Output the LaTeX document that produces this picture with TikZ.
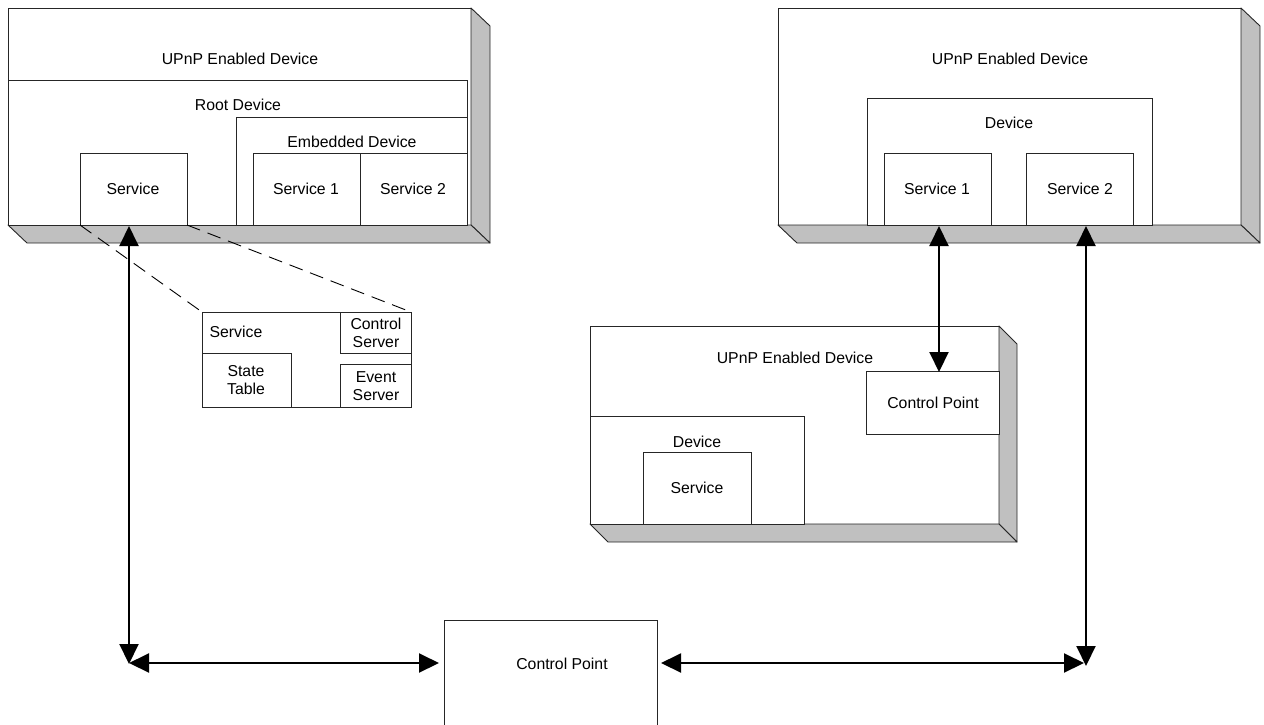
\documentclass[tikz,border=0pt]{standalone}
\usepackage{fontspec}
\setmainfont{Liberation Sans}
\usetikzlibrary{arrows.meta}
\definecolor{shade}{HTML}{C0C0C0}
\tikzset{
  box/.style={draw=black!85, fill=white, line width=0.9pt, inner sep=0pt, outer sep=0pt, anchor=north west},
  face/.style={draw=black!85, fill=shade, line width=0.9pt, line join=round},
  lbl/.style={inner sep=0pt, font=\fontsize{15.8pt}{18.5pt}\selectfont, align=center},
  link/.style={line width=2pt, {Triangle[length=20pt,width=19pt]}-{Triangle[length=20pt,width=19pt]}, shorten <=-1pt, shorten >=-1pt},
  zoomline/.style={line width=0.9pt, dash pattern=on 14pt off 8pt},
}
% a raised device box: front face plus shaded right and bottom faces
\newcommand{\devbox}[5]{% name, x1, y1, x2, y2
  \node[box, minimum width={(#4-#2)*1pt}, minimum height={(#5-#3)*1pt}] (#1) at (#2,#3) {};
  \draw[face] (#1.north east) -- ++(19,18) -- ++(0,{#5-#3}) -- ++(-19,-18) -- cycle;
  \draw[face] (#1.south west) -- ++(19,18) -- ++({#4-#2},0) -- ++(-19,-18) -- cycle;
}
\newcommand{\plainbox}[5]{% name, x1, y1, x2, y2
  \node[box, minimum width={(#4-#2)*1pt}, minimum height={(#5-#3)*1pt}] (#1) at (#2,#3) {};
}
\begin{document}
\begin{tikzpicture}[x=1pt, y=-1pt]
\useasboundingbox (0,0) rectangle (1264,724);

% ---------- left UPnP device with root and embedded device ----------
\devbox{devA}{8}{8}{471}{225}
\node[lbl] (devAt) at (240,59) {UPnP Enabled Device};
\plainbox{root}{8}{80}{467}{225}
\node[lbl] (roott) at (238,105) {Root Device};
\plainbox{emb}{236}{117}{467}{225}
\node[lbl] (embt) at (352,142) {Embedded Device};
\plainbox{svcA}{80}{153}{187}{225}
\node[lbl] (svcAt) at (133,189) {Service};
\plainbox{esvc1}{253}{153}{360}{225}
\node[lbl] (esvc1t) at (306,189) {Service 1};
\plainbox{esvc2}{360}{153}{467}{225}
\node[lbl] (esvc2t) at (413,189) {Service 2};

% ---------- service detail ----------
\plainbox{detail}{202}{312}{411}{407}
\node[lbl] (detailt) at (236,332) {Service};
\plainbox{state}{202}{353}{291}{407}
\node[lbl] (statet) at (246,380) {State\\Table};
\plainbox{ctrl}{340}{312}{411}{353}
\node[lbl] (ctrlt) at (376,333) {Control\\Server};
\plainbox{event}{340}{364}{411}{407}
\node[lbl] (eventt) at (376,386) {Event\\Server};
\draw[zoomline] (svcA.south west) -- (detail.north west);
\draw[zoomline] (svcA.south east) -- (detail.north east);

% ---------- right UPnP device ----------
\devbox{devB}{778}{8}{1241}{225}
\node[lbl] (devBt) at (1010,59) {UPnP Enabled Device};
\plainbox{devBin}{867}{98}{1152}{225}
\node[lbl] (devBint) at (1009,123) {Device};
\plainbox{bsvc1}{884}{153}{991}{225}
\node[lbl] (bsvc1t) at (937,189) {Service 1};
\plainbox{bsvc2}{1026}{153}{1133}{225}
\node[lbl] (bsvc2t) at (1080,189) {Service 2};

% ---------- middle UPnP device with its own control point ----------
\node[box, minimum width=409pt, minimum height=198pt] (devC) at (590,326) {};
\draw[face] (devC.north east) -- ++(18,18) -- ++(0,198) -- ++(-18,-18) -- cycle;
\draw[face] (devC.south west) -- ++(18,18) -- ++(409,0) -- ++(-18,-18) -- cycle;
\node[lbl] (devCt) at (795,358) {UPnP Enabled Device};
\plainbox{cpC}{866}{371}{999}{434}
\node[lbl] (cpCt) at (933,403) {Control Point};
\plainbox{devCin}{590}{416}{804}{524}
\node[lbl] (devCint) at (697,442) {Device};
\plainbox{csvc}{643}{452}{751}{524}
\node[lbl] (csvct) at (697,488) {Service};

% ---------- stand-alone control point ----------
\plainbox{cp}{444}{620}{657}{728}
\node[lbl] (cpt) at (562,664) {Control Point};

% ---------- connections ----------
\coordinate (cornerL) at (129,663);
\coordinate (cornerR) at (1086,663);
\coordinate (colB) at (939,0);
\draw[link] ([yshift=-2pt]svcA.south -| cornerL) -- (cornerL);
\draw[link] ([xshift=1pt]cornerL) -- ([xshift=-6pt]cp.west |- cornerL);
\draw[link] ([xshift=5pt]cp.east |- cornerL) -- ([xshift=-3pt]cornerR);
\draw[link] ([yshift=-2pt]bsvc2.south -| cornerR) -- ([yshift=-2pt]cornerR);
\draw[link] ([yshift=-2pt]bsvc1.south -| colB) -- (cpC.north -| colB);
\end{tikzpicture}
\end{document}
